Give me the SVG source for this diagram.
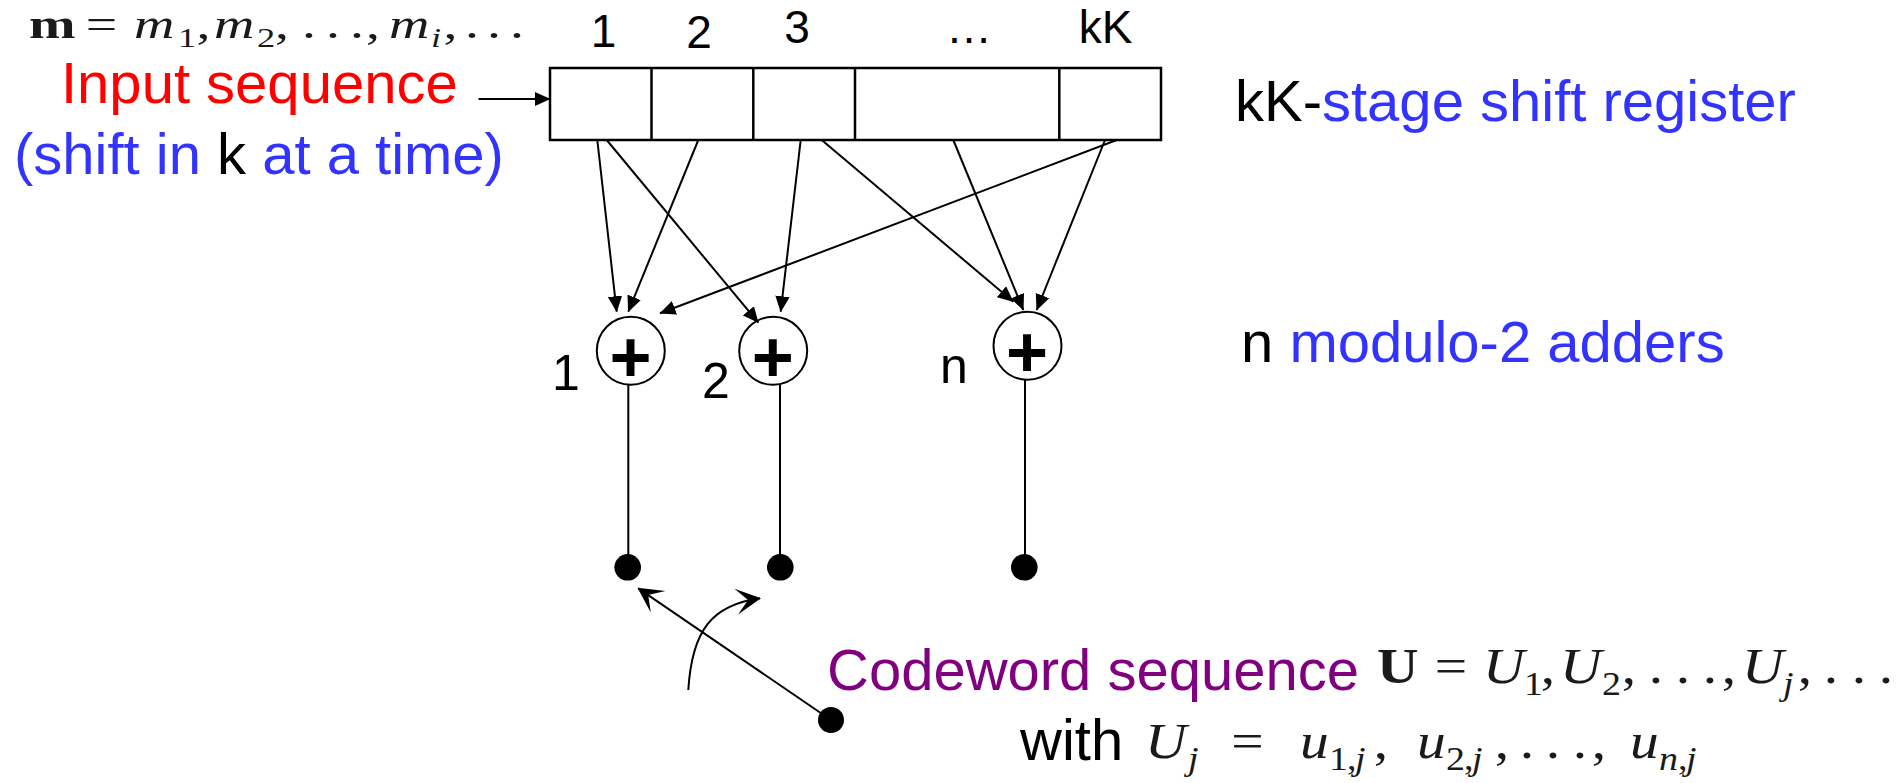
<svg xmlns="http://www.w3.org/2000/svg" width="1899" height="783" viewBox="0 0 1899 783">
  <style>
    .big { font-family: "Liberation Sans", Arial, sans-serif; font-size: 58px; }
    .blue { fill: #3333ff; }
    .red { fill: #ff0000; }
    .purple { fill: #800080; }
    .blk { fill: #000000; }
    .num { font-family: "Liberation Sans", Arial, sans-serif; font-size: 46px; text-anchor: middle; }
    .addlbl { font-family: "Liberation Sans", Arial, sans-serif; font-size: 50px; }
    .plus { font-family: "Liberation Sans", Arial, sans-serif; font-size: 72px; font-weight: bold; text-anchor: middle; }
    .math { font-family: "Liberation Serif", "Times New Roman", serif; fill: #1a1a1a; }
    .m-top { font-size: 43px; }
    .m-top .sub { font-size: 28px; }
    .m-bot { font-size: 50px; }
    .m-bot .sub { font-size: 33px; }
    .math .it { font-style: italic; }
    .math .bf { font-weight: bold; }
    .cell { fill: #ffffff; stroke: #000; stroke-width: 2.5; }
    .wire { fill: none; stroke: #000; stroke-width: 2; }
    .adder { fill: #ffffff; stroke: #000; stroke-width: 2; }
    .dot { fill: #000; }
  </style>
  <defs>
    <marker id="head" markerUnits="userSpaceOnUse" markerWidth="17" markerHeight="16" viewBox="0 0 17 16" refX="15.5" refY="8" orient="auto">
      <path d="M0,0.8 L16,8 L0,15.2 z" fill="#000"/>
    </marker>
    <marker id="stealth" markerUnits="userSpaceOnUse" markerWidth="30" markerHeight="30" viewBox="-27 -15 30 30" refX="-1" refY="0" orient="auto">
      <path d="M0,0 L-25,-13 L-13,0 L-25,13 z" fill="#000"/>
    </marker>
  </defs>

  <rect width="1899" height="783" fill="#ffffff"/>

  <!-- message sequence m = m1, m2, ..., mi, ... (widened to the math face proportions) -->
  <text class="math m-top" y="38.5" transform="scale(1.3 1)">
    <tspan class="bf" x="22.3">m</tspan><tspan x="66">=</tspan><tspan class="it" x="103.1">m</tspan><tspan class="sub" x="136.9" y="47">1</tspan><tspan x="151.2" y="38.5">,</tspan><tspan class="it" x="164.6">m</tspan><tspan class="sub" x="197.7" y="47">2</tspan><tspan x="211.5" y="38.5">,</tspan><tspan x="232.3">.</tspan><tspan x="250.8">.</tspan><tspan x="269.2">.</tspan><tspan x="281.5">,</tspan><tspan class="it" x="299.2">m</tspan><tspan class="sub it" x="331.5" y="47">i</tspan><tspan x="341.2" y="38.5">,</tspan><tspan x="357.7">.</tspan><tspan x="374.6">.</tspan><tspan x="392.3">.</tspan>
  </text>

  <!-- input label -->
  <g id="input-label">
    <text class="big red" x="61" y="103">Input sequence</text>
    <text class="big" x="14" y="174"><tspan class="blue">(shift in </tspan><tspan class="blk">k</tspan><tspan class="blue"> at a time)</tspan></text>
  </g>

  <!-- shift register -->
  <g id="register">
    <rect class="cell" x="550" y="68" width="611" height="72"/>
    <line class="cell" x1="651.5" y1="68" x2="651.5" y2="140"/>
    <line class="cell" x1="753.3" y1="68" x2="753.3" y2="140"/>
    <line class="cell" x1="855" y1="68" x2="855" y2="140"/>
    <line class="cell" x1="1059.3" y1="68" x2="1059.3" y2="140"/>
    <text class="num" x="603.5" y="47">1</text>
    <text class="num" x="699" y="48">2</text>
    <text class="num" x="797" y="43">3</text>
    <text class="num" x="969" y="43">…</text>
    <text class="num" x="1105.5" y="43">kK</text>
  </g>

  <g id="register-label">
    <text class="big" x="1235" y="121"><tspan class="blk">kK-</tspan><tspan class="blue">stage shift register</tspan></text>
  </g>

  <!-- modulo-2 adders -->
  <g id="adder-1">
    <circle class="adder" cx="630.8" cy="350.8" r="34"/>
    <text class="plus" x="630.5" y="382">+</text>
    <text class="addlbl" x="552" y="390">1</text>
  </g>
  <g id="adder-2">
    <circle class="adder" cx="773.2" cy="350.8" r="34"/>
    <text class="plus" x="772.7" y="382">+</text>
    <text class="addlbl" x="702" y="398">2</text>
  </g>
  <g id="adder-n">
    <circle class="adder" cx="1027.5" cy="345.8" r="34"/>
    <text class="plus" x="1027" y="377">+</text>
    <text class="addlbl" x="940" y="383">n</text>
  </g>

  <g id="adders-label">
    <text class="big" x="1241" y="362"><tspan class="blk">n </tspan><tspan class="blue">modulo-2 adders</tspan></text>
  </g>

  <!-- output taps -->
  <g id="out-1"><circle class="dot" cx="627.7" cy="567.3" r="13.3"/></g>
  <g id="out-2"><circle class="dot" cx="780.3" cy="567.3" r="13.3"/></g>
  <g id="out-n"><circle class="dot" cx="1024.3" cy="567.3" r="13.3"/></g>
  <g id="codeword-tap"><circle class="dot" cx="831" cy="720" r="13"/></g>

  <!-- connectors -->
  <g id="connectors">
    <line class="wire" x1="478.6" y1="99" x2="550" y2="99" marker-end="url(#head)"/>
    <line class="wire" x1="597.3" y1="140" x2="616.7" y2="311.7" marker-end="url(#head)"/>
    <line class="wire" x1="698.3" y1="140" x2="628.3" y2="311.7" marker-end="url(#head)"/>
    <line class="wire" x1="606.7" y1="140" x2="758.3" y2="322.7" marker-end="url(#head)"/>
    <line class="wire" x1="800.7" y1="140" x2="780.7" y2="311.7" marker-end="url(#head)"/>
    <line class="wire" x1="1116.7" y1="140" x2="660" y2="313.3" marker-end="url(#head)"/>
    <line class="wire" x1="821.7" y1="140" x2="1013.3" y2="301.7" marker-end="url(#head)"/>
    <line class="wire" x1="953.3" y1="140" x2="1023.3" y2="310" marker-end="url(#head)"/>
    <line class="wire" x1="1105" y1="140" x2="1036.7" y2="310" marker-end="url(#head)"/>
    <line class="wire" x1="628.3" y1="385" x2="628.3" y2="567"/>
    <line class="wire" x1="780" y1="385" x2="780" y2="567"/>
    <line class="wire" x1="1025" y1="380" x2="1025" y2="567"/>
    <line class="wire" x1="831" y1="720" x2="638.3" y2="588.3" marker-end="url(#stealth)"/>
    <path class="wire" d="M688.3,690 C692,630 712,605 760,598.3" marker-end="url(#stealth)"/>
  </g>

  <!-- codeword label -->
  <g id="codeword-label">
    <text class="big purple" x="827" y="690">Codeword sequence</text>
    <text class="math m-bot" y="683" transform="scale(1.15 1)">
      <tspan class="bf" x="1197.4">U</tspan><tspan x="1247.7">=</tspan><tspan class="it" x="1289.6">U</tspan><tspan class="sub" x="1325.2" y="695">1</tspan><tspan x="1339.8" y="683">,</tspan><tspan class="it" x="1356.5">U</tspan><tspan class="sub" x="1393" y="695">2</tspan><tspan x="1410.3" y="683">,</tspan><tspan x="1433.7">.</tspan><tspan x="1457.2">.</tspan><tspan x="1480.7">.</tspan><tspan x="1497.2">,</tspan><tspan class="it" x="1514.8">U</tspan><tspan class="sub it" x="1550.4" y="695">j</tspan><tspan x="1563.3" y="683">,</tspan><tspan x="1585.9">.</tspan><tspan x="1610.3">.</tspan><tspan x="1633.7">.</tspan>
    </text>
    <text class="big blk" x="1020" y="760">with</text>
    <text class="math m-bot" y="758" transform="scale(1.15 1)">
      <tspan class="it" x="995.7">U</tspan><tspan class="sub it" x="1033" y="770">j</tspan><tspan x="1070.7" y="758">=</tspan><tspan class="it" x="1130.4">u</tspan><tspan class="sub" x="1155.7" y="770">1</tspan><tspan class="sub" x="1171.3">,</tspan><tspan class="sub it" x="1178.3">j</tspan><tspan x="1194.6" y="758">,</tspan><tspan class="it" x="1232.2">u</tspan><tspan class="sub" x="1257.4" y="770">2</tspan><tspan class="sub" x="1273">,</tspan><tspan class="sub it" x="1280">j</tspan><tspan x="1299.8" y="758">,</tspan><tspan x="1321.6">.</tspan><tspan x="1344.2">.</tspan><tspan x="1367.7">.</tspan><tspan x="1384.2">,</tspan><tspan class="it" x="1417.4">u</tspan><tspan class="sub it" x="1442.6" y="770">n</tspan><tspan class="sub" x="1459.1">,</tspan><tspan class="sub it" x="1466.1">j</tspan>
    </text>
  </g>
</svg>
